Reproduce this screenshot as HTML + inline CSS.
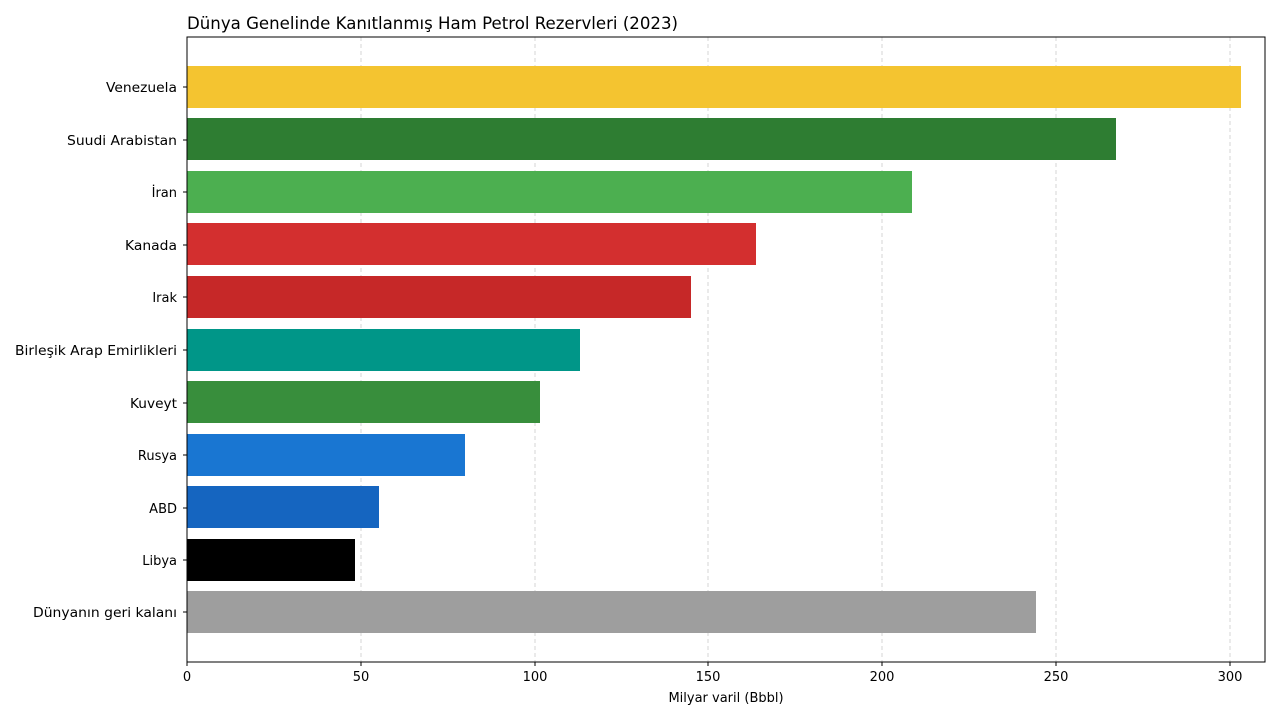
<!DOCTYPE html>
<html><head><meta charset="utf-8"><style>body{margin:0;background:#fff}svg{display:block}text{font-family:"DejaVu Sans","Liberation Sans",sans-serif;fill:#000}</style></head><body>
<svg width="1280" height="720" viewBox="0 0 1280 720" xmlns="http://www.w3.org/2000/svg">
<g stroke="#ccc" stroke-dasharray="4,3" stroke-width="0.8">
<line x1="361" y1="37" x2="361" y2="662"/><line x1="535" y1="37" x2="535" y2="662"/><line x1="708" y1="37" x2="708" y2="662"/><line x1="882" y1="37" x2="882" y2="662"/><line x1="1056" y1="37" x2="1056" y2="662"/><line x1="1230" y1="37" x2="1230" y2="662"/>
</g>
<rect x="187" y="66" width="1054" height="42" fill="#F4C430"/>
<rect x="187" y="118" width="929" height="42" fill="#2E7D32"/>
<rect x="187" y="171" width="725" height="42" fill="#4CAF50"/>
<rect x="187" y="223" width="569" height="42" fill="#D32F2F"/>
<rect x="187" y="276" width="504" height="42" fill="#C62828"/>
<rect x="187" y="329" width="393" height="42" fill="#009688"/>
<rect x="187" y="381" width="353" height="42" fill="#388E3C"/>
<rect x="187" y="434" width="278" height="42" fill="#1976D2"/>
<rect x="187" y="486" width="192" height="42" fill="#1565C0"/>
<rect x="187" y="539" width="168" height="42" fill="#000"/>
<rect x="187" y="591" width="849" height="42" fill="#9E9E9E"/>
<rect x="187" y="37" width="1078" height="625" fill="none" stroke="#000" stroke-width="1"/>
<g font-size="13" text-anchor="end">
<text x="177" y="92" textLength="71" lengthAdjust="spacingAndGlyphs">Venezuela</text><text x="177" y="145" textLength="110" lengthAdjust="spacingAndGlyphs">Suudi Arabistan</text><text x="177" y="197">İran</text><text x="177" y="250" textLength="52" lengthAdjust="spacingAndGlyphs">Kanada</text><text x="177" y="302">Irak</text><text x="177" y="355" textLength="162" lengthAdjust="spacingAndGlyphs">Birleşik Arap Emirlikleri</text><text x="177" y="408" textLength="47" lengthAdjust="spacingAndGlyphs">Kuveyt</text><text x="177" y="460">Rusya</text><text x="177" y="513">ABD</text><text x="177" y="565">Libya</text><text x="177" y="617" textLength="144" lengthAdjust="spacingAndGlyphs">Dünyanın geri kalanı</text>
</g>
<g stroke="#000"><line x1="183" y1="87" x2="187" y2="87"/><line x1="183" y1="140" x2="187" y2="140"/><line x1="183" y1="192" x2="187" y2="192"/><line x1="183" y1="245" x2="187" y2="245"/><line x1="183" y1="297" x2="187" y2="297"/><line x1="183" y1="350" x2="187" y2="350"/><line x1="183" y1="403" x2="187" y2="403"/><line x1="183" y1="455" x2="187" y2="455"/><line x1="183" y1="508" x2="187" y2="508"/><line x1="183" y1="560" x2="187" y2="560"/><line x1="183" y1="612" x2="187" y2="612"/>
<line x1="187" y1="662" x2="187" y2="666"/><line x1="361" y1="662" x2="361" y2="666"/><line x1="535" y1="662" x2="535" y2="666"/><line x1="708" y1="662" x2="708" y2="666"/><line x1="882" y1="662" x2="882" y2="666"/><line x1="1056" y1="662" x2="1056" y2="666"/><line x1="1230" y1="662" x2="1230" y2="666"/></g>
<g font-size="13" text-anchor="middle">
<text x="187" y="681">0</text><text x="361" y="681">50</text><text x="535" y="681">100</text><text x="708" y="681">150</text><text x="882" y="681">200</text><text x="1056" y="681">250</text><text x="1230" y="681">300</text>
<text x="726" y="702">Milyar varil (Bbbl)</text>
</g>
<text x="187" y="29" font-size="16.5" textLength="491" lengthAdjust="spacingAndGlyphs">Dünya Genelinde Kanıtlanmış Ham Petrol Rezervleri (2023)</text>
</svg>
</body></html>
